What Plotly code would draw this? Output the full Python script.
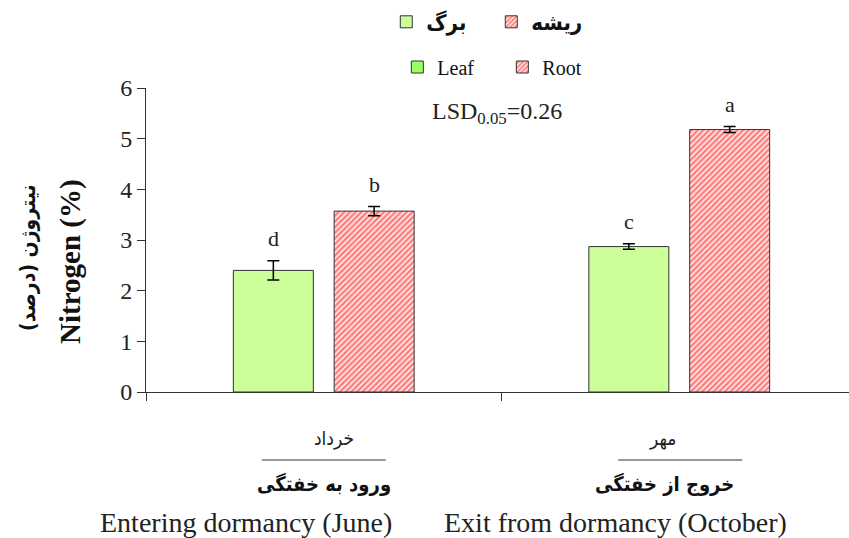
import plotly.graph_objects as go

# ---- data ----
categories = [0, 1]
leaf_values = [2.40, 2.87]
leaf_err = [0.19, 0.055]
root_values = [3.57, 5.18]
root_err = [0.09, 0.06]
leaf_letters = ["d", "c"]
root_letters = ["b", "a"]
month_fa = ["خرداد", "مهر"]
stage_fa = ["ورود به خفتگی", "خروج از خفتگی"]
stage_en = ["Entering dormancy (June)", "Exit from dormancy (October)"]
y_ticks = [0, 1, 2, 3, 4, 5, 6]

# ---- layout constants ----
W, H = 849, 538
L, R, T, B = 146, 0, 88, 146
PW, PH = W - L - R, H - T - B
XR = [-0.5, 1.4775]
UPX = (XR[1] - XR[0]) / PW  # data units per px
BAR_W = 0.225
LEAF_OFF = -0.2543
ROOT_OFF = 0.0293
SERIF = "Liberation Serif, Times New Roman, serif"
FA = "DejaVu Sans Condensed, DejaVu Sans, sans-serif"
LEAF_COLOR = "#CCFF99"
HATCH = dict(shape="/", fgcolor="#FF0000", bgcolor="white", size=4, solidity=0.65)


def px_x(px):
    return (px - L) / PW


def px_y(py):
    return (H - B - py) / PH


fig = go.Figure()

fig.add_trace(go.Bar(
    x=categories, y=leaf_values, width=BAR_W, offset=LEAF_OFF,
    marker=dict(color=LEAF_COLOR, line=dict(color="#333333", width=1)),
    error_y=dict(type="data", array=leaf_err, color="black", thickness=1.5, width=6),
    showlegend=False, hoverinfo="skip",
))
fig.add_trace(go.Bar(
    x=categories, y=root_values, width=BAR_W, offset=ROOT_OFF,
    marker=dict(color="white", pattern=HATCH, line=dict(color="#333333", width=1)),
    error_y=dict(type="data", array=root_err, color="black", thickness=1.5, width=6),
    showlegend=False, hoverinfo="skip",
))

# legend-only entries
fig.add_trace(go.Bar(x=[None], y=[None], name="<b>برگ</b>", legend="legend",
                     marker=dict(color=LEAF_COLOR, line=dict(color="#333333", width=1))))
fig.add_trace(go.Bar(x=[None], y=[None], name="<b>ریشه</b>", legend="legend",
                     marker=dict(color="white", pattern=HATCH, line=dict(color="#333333", width=1))))
fig.add_trace(go.Bar(x=[None], y=[None], name="Leaf", legend="legend2",
                     marker=dict(color="#99FF66", line=dict(color="#333333", width=1))))
fig.add_trace(go.Bar(x=[None], y=[None], name="Root", legend="legend2",
                     marker=dict(color="white", pattern=HATCH, line=dict(color="#333333", width=1))))

ann = []
for i, c in enumerate(categories):
    ann.append(dict(x=c + LEAF_OFF + BAR_W / 2, y=leaf_values[i] + leaf_err[i], xref="x", yref="y",
                    text=leaf_letters[i], showarrow=False, yanchor="bottom", yshift=8,
                    font=dict(family=SERIF, size=22, color="#222")))
    ann.append(dict(x=c + ROOT_OFF + BAR_W / 2, y=root_values[i] + root_err[i], xref="x", yref="y",
                    text=root_letters[i], showarrow=False, yanchor="bottom", yshift=8,
                    font=dict(family=SERIF, size=22, color="#222")))

month_dx = [10, -17]   # px shift of label from category centre
stage_dx = [0, -15]
en_dx = [-78, -64]
line_dx = [0, 1]
for i, c in enumerate(categories):
    ann.append(dict(x=c + month_dx[i] * UPX, y=px_y(438), xref="x", yref="paper", text=month_fa[i],
                    xanchor="center", yanchor="middle",
                    showarrow=False, font=dict(family=FA, size=19, color="#222")))
    ann.append(dict(x=c + stage_dx[i] * UPX, y=px_y(484), xref="x", yref="paper", text="<b>" + stage_fa[i] + "</b>",
                    xanchor="center", yanchor="middle",
                    showarrow=False, font=dict(family=FA, size=20, color="#111")))
    ann.append(dict(x=c + en_dx[i] * UPX, y=px_y(522), xref="x", yref="paper", text=stage_en[i],
                    xanchor="center", yanchor="middle",
                    showarrow=False, font=dict(family=SERIF, size=28, color="#222")))

ann.append(dict(x=px_x(497), y=px_y(113), xref="paper", yref="paper",
                text="LSD<sub>0.05</sub>=0.26", showarrow=False, xanchor="center", yanchor="middle",
                font=dict(family=SERIF, size=24, color="#222")))
ann.append(dict(x=px_x(28), y=px_y(258), xref="paper", yref="paper", text="<b>نیتروژن (درصد)</b>",
                xanchor="center", yanchor="middle",
                textangle=-90, showarrow=False, font=dict(family=FA, size=21, color="#111")))
ann.append(dict(x=px_x(70), y=px_y(262), xref="paper", yref="paper", text="<b>Nitrogen (%)</b>",
                xanchor="center", yanchor="middle",
                textangle=-90, showarrow=False, font=dict(family=SERIF, size=29, color="#111")))

shapes = []
for i, c in enumerate(categories):
    shapes.append(dict(type="line", xref="x", yref="paper",
                       x0=c + (line_dx[i] - 62) * UPX, x1=c + (line_dx[i] + 62) * UPX,
                       y0=px_y(460), y1=px_y(460),
                       line=dict(color="#333", width=1)))

fig.update_layout(
    width=W, height=H, margin=dict(l=L, r=R, t=T, b=B, autoexpand=False),
    paper_bgcolor="white", plot_bgcolor="white",
    barmode="overlay",
    xaxis=dict(range=XR, showgrid=False, zeroline=False, showline=True, linecolor="#333", linewidth=1,
               tickvals=[-0.5, 0.5], ticks="outside", ticklen=8, tickcolor="#333",
               showticklabels=False, fixedrange=True),
    yaxis=dict(range=[0, 6], tickvals=y_ticks, showgrid=False, zeroline=False, showline=True,
               linecolor="#333", linewidth=1, ticks="outside", ticklen=8, tickcolor="#333",
               tickfont=dict(family=SERIF, size=24, color="#222")),
    legend=dict(orientation="h", xref="container", yref="container", x=0.455, y=1 - 22 / H,
                yanchor="middle", xanchor="left", font=dict(family=FA, size=22, color="#111"),
                entrywidth=60, bgcolor="rgba(0,0,0,0)"),
    legend2=dict(orientation="h", xref="container", yref="container", x=0.468, y=1 - 67 / H,
                 yanchor="middle", xanchor="left", font=dict(family=SERIF, size=20, color="#111"),
                 entrywidth=60, bgcolor="rgba(0,0,0,0)"),
    annotations=ann, shapes=shapes,
)

fig.write_html("out.html", config={"displayModeBar": False},
               post_script="document.body.style.margin='0px';")
